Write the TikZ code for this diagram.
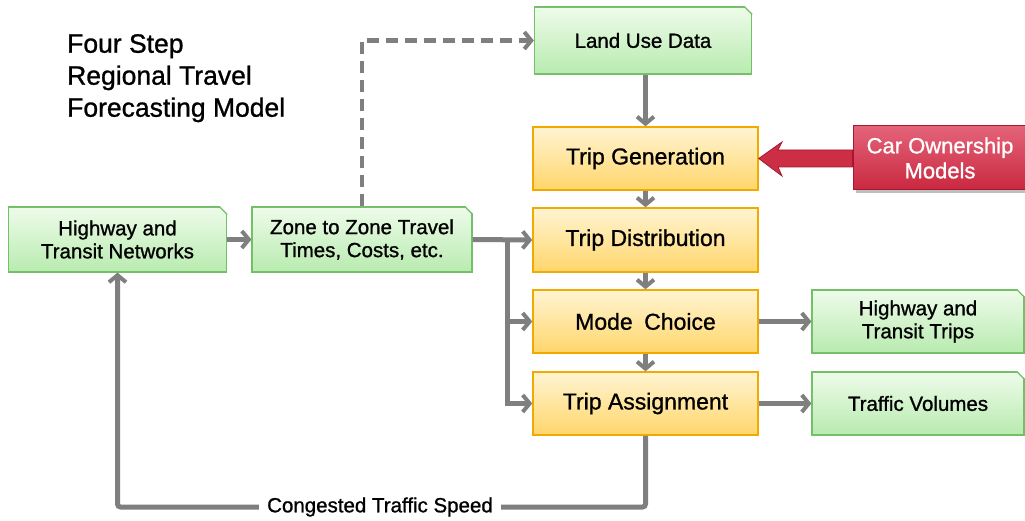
\documentclass[tikz,border=0pt]{standalone}
\usepackage{fontspec}
\setmainfont{Liberation Sans}[FakeBold=1.0]
\usetikzlibrary{arrows.meta,positioning,calc}
\definecolor{gtop}{HTML}{EEFBEA}
\definecolor{gbot}{HTML}{B8EBAF}
\definecolor{gedge}{HTML}{74C068}
\definecolor{otop}{HTML}{FFF4D2}
\definecolor{obot}{HTML}{FFD66B}
\definecolor{oedge}{HTML}{F2A900}
\definecolor{rtop}{HTML}{E4647A}
\definecolor{rbot}{HTML}{C9283F}
\definecolor{redge}{HTML}{A8172C}
\definecolor{flowgray}{HTML}{7F7F7F}
\tikzset{
  greenbox/.style={draw=gedge, line width=1.2pt, top color=gtop, bottom color=gbot,
    minimum width=218pt, minimum height=65pt, inner sep=2pt, align=center,
    font=\fontsize{20.5}{23}\selectfont},
  orangebox/.style={draw=oedge, line width=1.5pt, top color=otop, bottom color=obot,
    minimum width=225pt, minimum height=63pt, inner sep=2pt, align=center,
    font=\fontsize{23}{24}\selectfont},
  redbox/.style={draw=redge, line width=1pt, top color=rtop, bottom color=rbot,
    minimum width=174pt, minimum height=64pt, inner sep=2pt, align=center,
    text=white, font=\fontsize{22}{25}\selectfont},
  flow/.style={draw=flowgray, line width=5pt,
    -{Straight Barb[length=7pt,width=17pt,line width=4pt]}},
  dashflow/.style={draw=flowgray, line width=4.5pt, dash pattern=on 12pt off 7pt,
    -{Straight Barb[length=7pt,width=17pt,line width=4pt]}},
  labeltext/.style={fill=white, inner sep=0pt, inner xsep=8pt, minimum height=14pt,
    font=\fontsize{20.5}{22}\selectfont},
}
\newcommand{\foldcorner}[1]{%
  \fill[white] ($(#1.north east)+(-8,-1)$) -- ($(#1.north east)+(1,-1)$) -- ($(#1.north east)+(1,8)$) -- cycle;
  \draw[gedge, line width=1.2pt] ($(#1.north east)+(-8,0)$) -- ($(#1.north east)+(0,8)$);}
\begin{document}
\begin{tikzpicture}[x=1pt,y=-1pt]
\useasboundingbox (0,0) rectangle (1025,521);
\fill[white] (0,0) rectangle (1025,521);

% title
\node[anchor=north west, align=left, inner sep=0pt,
  font=\fontsize{26.5}{32}\selectfont] (title) at (67,34)
  {Four Step\\Regional Travel\\Forecasting Model};

% green boxes
\node[greenbox] (hw) at (117.5,239.5) {Highway and\\Transit Networks};
\node[greenbox, minimum width=220pt] (zz) at (362,239.5) {Zone to Zone Travel\\Times, Costs, etc.};
\node[greenbox, minimum width=217pt, minimum height=67pt] (lu) at (643,40.5) {Land Use Data};
\node[greenbox, minimum width=212pt, minimum height=63pt] (ht) at (918,321.5) {Highway and\\Transit Trips};
\node[greenbox, minimum width=212pt, minimum height=63pt] (tv) at (918,403.5) {Traffic Volumes};
\foldcorner{hw}
\foldcorner{zz}
\foldcorner{lu}
\foldcorner{ht}
\foldcorner{tv}

% orange boxes
\node[orangebox] (tg) at (645.5,158.5) {Trip Generation};
\node[orangebox, minimum height=64pt] (td) at (645.5,240) {Trip Distribution};
\node[orangebox] (mc) at (645.5,321.5) {Mode\hspace{0.5em}Choice};
\node[orangebox] (ta) at (645.5,403.5) {Trip Assignment};

% red box with block arrow
\fill[black!25] (856,129) rectangle (1028,193);
\node[redbox] (co) at (940,158) {Car Ownership\\Models};
\fill[rbot!90!rtop, draw=redge, line width=0.8pt]
  (co.west |- 0,150) -- (778,150) -- (782,142) -- (tg.east) -- (782,176) -- (778,167)
  -- (co.west |- 0,167) -- cycle;

% connectors
\draw[flow] (lu.south -| tg.north) -- (tg.north);
\draw[flow] (tg.south) -- (td.north);
\draw[flow] (td.south) -- (mc.north);
\draw[flow] (mc.south) -- (ta.north);
\draw[flow] (hw.east) -- (zz.west);
\draw[flow] (zz.east) -- (td.west);
\coordinate (br) at (507,240);
\draw[flow] (br) |- (mc.west);
\draw[flow] (br) |- (ta.west);
\draw[flow] (mc.east) -- (ht.west);
\draw[flow] (ta.east) -- (tv.west);
\draw[dashflow] (zz.north) |- (lu.west);

% feedback loop
\coordinate (fby) at (380,507);
\draw[flow, rounded corners=3pt] (ta.south) -- (ta.south |- fby)
  -- (hw.south |- fby) -- (hw.south);
\node[labeltext] (csp) at (fby) {Congested Traffic Speed};
\end{tikzpicture}
\end{document}
